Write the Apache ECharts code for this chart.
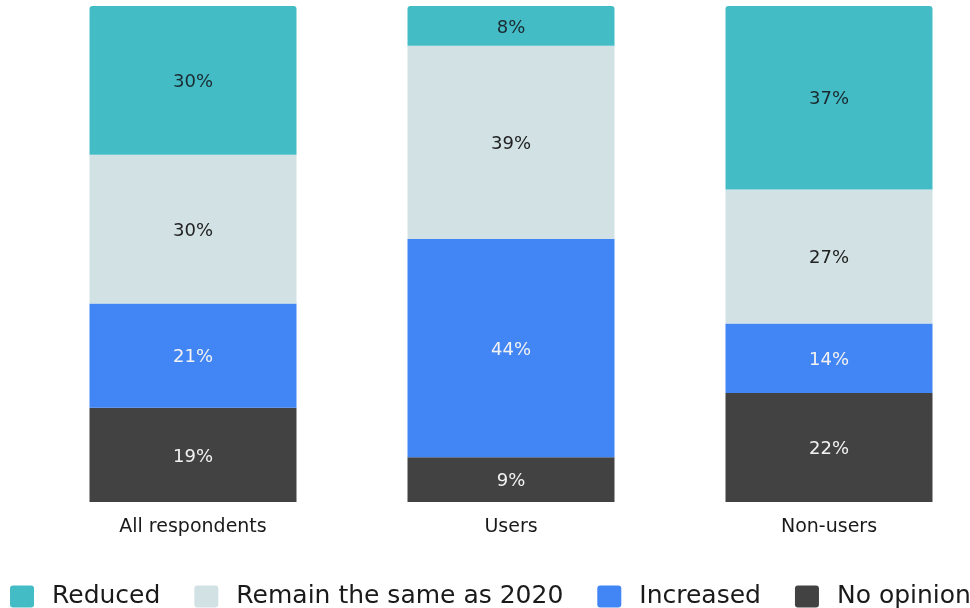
<!DOCTYPE html>
<html>
<head>
<meta charset="utf-8">
<script src="https://cdn.jsdelivr.net/npm/echarts@6/dist/echarts.min.js"></script>
<style>
html,body{margin:0;padding:0;background:#fff;}
#chart{width:970px;height:608px;}
</style>
</head>
<body>
<div id="chart"></div>
<script>
const categories = ['All respondents', 'Users', 'Non-users'];
const noOpinion = [19, 9, 22];
const increased = [21, 44, 14];
const remainSame = [30, 39, 27];
const reduced = [30, 8, 37];
const seriesNames = ['Reduced', 'Remain the same as 2020', 'Increased', 'No opinion'];

const FONT = 'DejaVu Sans';
const chart = echarts.init(document.getElementById('chart'));

function mk(name, data, color, labelColor, radius) {
  return {
    name: name,
    type: 'bar',
    stack: 'total',
    data: data,
    barWidth: 207,
    itemStyle: { color: color, borderRadius: radius },
    label: {
      show: true,
      position: 'inside',
      formatter: '{c}%',
      color: labelColor,
      fontFamily: FONT,
      fontSize: 18,
      offset: [0, 2]
    },
    emphasis: { disabled: true }
  };
}

chart.setOption({
  animation: false,
  color: ['#44BCC6', '#D1E1E4', '#4285F4', '#424242'],
  grid: { left: 34, width: 954, top: 6, height: 496, outerBoundsMode: 'none', containLabel: false },
  xAxis: {
    type: 'category',
    data: categories,
    axisLine: { show: false },
    axisTick: { show: false },
    axisLabel: { color: '#1a1a1a', fontFamily: FONT, fontSize: 19, margin: 16 }
  },
  yAxis: { type: 'value', min: 0, max: 100, show: false },
  legend: {
    data: seriesNames,
    left: 10,
    top: 584,
    width: 1400,
    padding: 0,
    itemWidth: 24,
    itemHeight: 22,
    itemGap: 34,
    icon: 'path://M3,0 L21,0 Q24,0 24,3 L24,19 Q24,22 21,22 L3,22 Q0,22 0,19 L0,3 Q0,0 3,0 Z',
    textStyle: { color: '#1a1a1a', fontFamily: FONT, fontSize: 25, padding: [0, 0, 0, 13] }
  },
  series: [
    mk('No opinion', noOpinion, '#424242', '#f2f2f2', 0),
    mk('Increased', increased, '#4285F4', '#f2f2f2', 0),
    mk('Remain the same as 2020', remainSame, '#D1E1E4', '#222222', 0),
    mk('Reduced', reduced, '#44BCC6', '#1b2a30', [3, 3, 0, 0])
  ]
});
</script>
</body>
</html>
